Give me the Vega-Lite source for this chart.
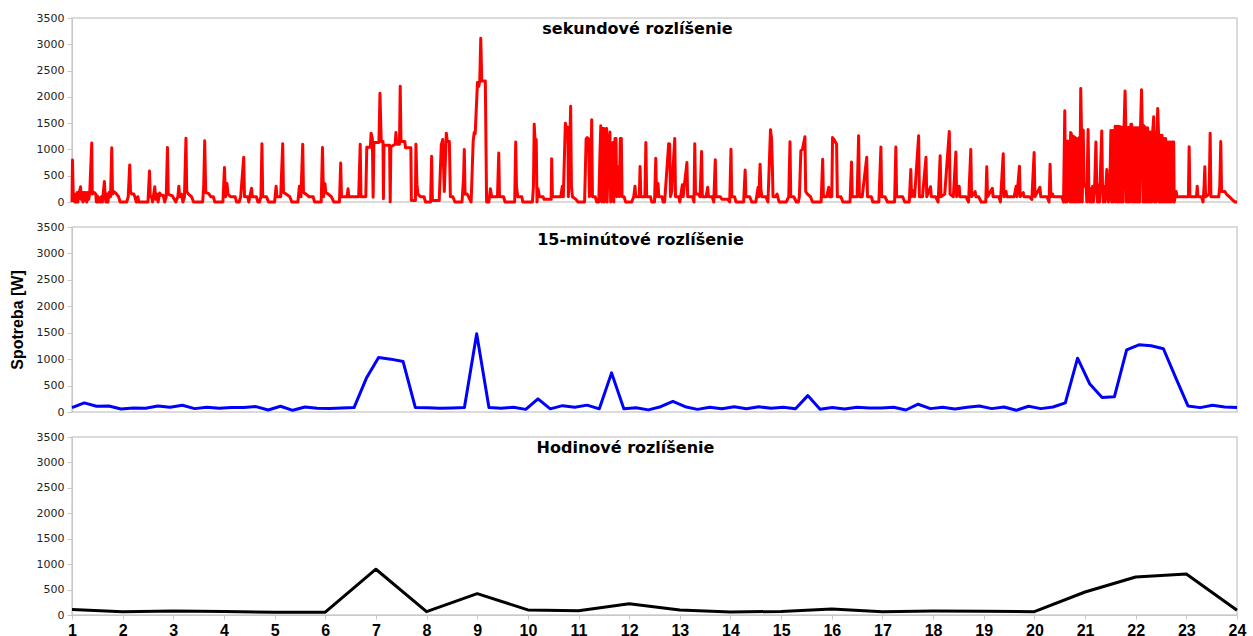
{
"$schema": "https://vega.github.io/schema/vega-lite/v6.json",
"background": "white",
"padding": {"left": 8, "top": 11, "right": 10, "bottom": 0},
"bounds": "flush",
"spacing": 25,
"config": {
"view": {"stroke": "#d0d0d0", "strokeWidth": 1.5},
"title": {"font": "DejaVu Sans", "fontSize": 16, "fontWeight": "bold", "color": "#000000", "anchor": "middle"},
"axisY": {"labelFont": "DejaVu Sans", "labelFontSize": 11, "labelColor": "#222222", "tickSize": 5, "labelPadding": 3, "domainColor": "#c8c8c8", "tickColor": "#c8c8c8", "grid": false, "labelFlush": false, "labelOverlap": false, "titleFont": "Liberation Sans", "titleFontSize": 16, "titleFontWeight": "bold", "titleColor": "#000000", "titlePadding": 11},
"axisX": {"labelFont": "Liberation Sans", "labelFontSize": 16, "labelFontWeight": "bold", "labelColor": "#000000", "tickSize": 4, "labelPadding": 3, "domainColor": "#c8c8c8", "tickColor": "#c8c8c8", "grid": false, "labelFlush": false, "labelOverlap": false}
},
"datasets": {
"sec": [
{"t":1.000,"w":0},{"t":1.010,"w":800},{"t":1.025,"w":100},{"t":1.045,"w":100},{"t":1.055,"w":0},{"t":1.075,"w":150},{"t":1.085,"w":0},{"t":1.105,"w":180},{"t":1.115,"w":0},{"t":1.135,"w":150},{"t":1.170,"w":290},{"t":1.180,"w":50},{"t":1.200,"w":180},{"t":1.215,"w":0},{"t":1.235,"w":180},{"t":1.250,"w":30},{"t":1.270,"w":180},{"t":1.290,"w":0},{"t":1.310,"w":180},{"t":1.330,"w":50},{"t":1.350,"w":180},{"t":1.390,"w":1120},{"t":1.400,"w":150},{"t":1.440,"w":180},{"t":1.470,"w":150},{"t":1.480,"w":0},{"t":1.500,"w":120},{"t":1.515,"w":0},{"t":1.535,"w":80},{"t":1.560,"w":0},{"t":1.580,"w":100},{"t":1.600,"w":0},{"t":1.640,"w":390},{"t":1.655,"w":100},{"t":1.670,"w":0},{"t":1.690,"w":150},{"t":1.710,"w":0},{"t":1.730,"w":180},{"t":1.760,"w":100},{"t":1.785,"w":1030},{"t":1.800,"w":150},{"t":1.820,"w":200},{"t":1.850,"w":180},{"t":1.880,"w":150},{"t":1.920,"w":100},{"t":1.950,"w":0},
{"t":2.080,"w":0},{"t":2.110,"w":100},{"t":2.140,"w":705},{"t":2.155,"w":200},{"t":2.180,"w":150},{"t":2.220,"w":150},{"t":2.240,"w":100},{"t":2.270,"w":0},{"t":2.300,"w":100},{"t":2.320,"w":0},{"t":2.500,"w":0},{"t":2.530,"w":590},{"t":2.545,"w":100},{"t":2.575,"w":100},{"t":2.590,"w":0},{"t":2.635,"w":290},{"t":2.650,"w":50},{"t":2.680,"w":150},{"t":2.700,"w":0},{"t":2.730,"w":170},{"t":2.760,"w":130},{"t":2.800,"w":130},{"t":2.830,"w":0},{"t":2.860,"w":100},{"t":2.885,"w":1035},{"t":2.900,"w":150},{"t":2.940,"w":130},{"t":2.980,"w":120},
{"t":3.050,"w":0},{"t":3.090,"w":100},{"t":3.110,"w":300},{"t":3.125,"w":100},{"t":3.160,"w":150},{"t":3.190,"w":0},{"t":3.220,"w":100},{"t":3.250,"w":1215},{"t":3.265,"w":200},{"t":3.300,"w":150},{"t":3.360,"w":100},{"t":3.400,"w":0},{"t":3.580,"w":0},{"t":3.600,"w":300},{"t":3.620,"w":1165},{"t":3.640,"w":180},{"t":3.700,"w":160},{"t":3.740,"w":100},{"t":3.790,"w":100},{"t":3.820,"w":0},
{"t":3.980,"w":0},{"t":4.010,"w":655},{"t":4.030,"w":100},{"t":4.060,"w":350},{"t":4.080,"w":150},{"t":4.130,"w":100},{"t":4.220,"w":100},{"t":4.250,"w":0},{"t":4.300,"w":0},{"t":4.330,"w":100},{"t":4.390,"w":850},{"t":4.405,"w":100},{"t":4.470,"w":100},{"t":4.490,"w":0},{"t":4.510,"w":100},{"t":4.545,"w":260},{"t":4.560,"w":100},{"t":4.640,"w":100},{"t":4.670,"w":0},{"t":4.700,"w":0},{"t":4.730,"w":100},{"t":4.750,"w":1110},{"t":4.765,"w":100},{"t":4.840,"w":100},{"t":4.860,"w":50},{"t":4.880,"w":0},
{"t":5.000,"w":0},{"t":5.030,"w":300},{"t":5.045,"w":100},{"t":5.120,"w":100},{"t":5.160,"w":1110},{"t":5.175,"w":180},{"t":5.230,"w":150},{"t":5.300,"w":100},{"t":5.340,"w":0},{"t":5.460,"w":0},{"t":5.490,"w":300},{"t":5.520,"w":100},{"t":5.555,"w":1100},{"t":5.570,"w":180},{"t":5.620,"w":150},{"t":5.680,"w":100},{"t":5.760,"w":100},{"t":5.790,"w":0},{"t":5.920,"w":0},{"t":5.945,"w":1035},{"t":5.965,"w":100},{"t":5.995,"w":345},
{"t":6.010,"w":180},{"t":6.060,"w":150},{"t":6.120,"w":100},{"t":6.170,"w":0},{"t":6.280,"w":0},{"t":6.305,"w":740},{"t":6.320,"w":100},{"t":6.430,"w":100},{"t":6.450,"w":250},{"t":6.465,"w":100},{"t":6.660,"w":100},{"t":6.690,"w":1100},{"t":6.705,"w":100},{"t":6.800,"w":100},{"t":6.820,"w":1040},{"t":6.890,"w":1040},{"t":6.905,"w":1310},{"t":6.930,"w":1200},{"t":6.945,"w":90},{"t":6.960,"w":1130},
{"t":7.060,"w":1130},{"t":7.080,"w":2070},{"t":7.105,"w":1150},{"t":7.140,"w":1150},{"t":7.148,"w":60},{"t":7.160,"w":1080},{"t":7.270,"w":1080},{"t":7.282,"w":0},{"t":7.295,"w":1050},{"t":7.380,"w":1100},{"t":7.395,"w":1320},{"t":7.410,"w":1100},{"t":7.465,"w":1100},{"t":7.480,"w":2200},{"t":7.495,"w":1150},{"t":7.570,"w":1150},{"t":7.585,"w":1030},{"t":7.690,"w":1030},{"t":7.700,"w":30},{"t":7.780,"w":30},{"t":7.790,"w":1100},{"t":7.810,"w":330},{"t":7.830,"w":150},{"t":7.880,"w":100},{"t":7.950,"w":100},{"t":7.980,"w":0},
{"t":8.080,"w":0},{"t":8.100,"w":870},{"t":8.115,"w":30},{"t":8.250,"w":30},{"t":8.290,"w":1080},{"t":8.320,"w":1190},{"t":8.350,"w":200},{"t":8.390,"w":1310},{"t":8.410,"w":1150},{"t":8.450,"w":1150},{"t":8.470,"w":100},{"t":8.520,"w":100},{"t":8.560,"w":0},{"t":8.700,"w":0},{"t":8.730,"w":450},{"t":8.745,"w":1000},{"t":8.760,"w":150},{"t":8.800,"w":150},{"t":8.830,"w":100},{"t":8.880,"w":0},{"t":8.920,"w":1150},{"t":8.940,"w":1320},{"t":8.960,"w":1300},
{"t":9.005,"w":2275},{"t":9.030,"w":2200},{"t":9.050,"w":2300},{"t":9.070,"w":3115},{"t":9.090,"w":2300},{"t":9.160,"w":2300},{"t":9.185,"w":0},{"t":9.230,"w":0},{"t":9.260,"w":250},{"t":9.285,"w":100},{"t":9.400,"w":100},{"t":9.425,"w":930},{"t":9.440,"w":100},{"t":9.520,"w":100},{"t":9.550,"w":0},{"t":9.740,"w":0},{"t":9.760,"w":1140},{"t":9.775,"w":300},{"t":9.800,"w":100},{"t":9.880,"w":100},{"t":9.900,"w":0},{"t":9.980,"w":0},
{"t":10.090,"w":0},{"t":10.110,"w":300},{"t":10.125,"w":1480},{"t":10.140,"w":1190},{"t":10.165,"w":1190},{"t":10.180,"w":0},{"t":10.200,"w":250},{"t":10.230,"w":100},{"t":10.300,"w":100},{"t":10.320,"w":50},{"t":10.460,"w":50},{"t":10.470,"w":825},{"t":10.485,"w":100},{"t":10.650,"w":100},{"t":10.680,"w":300},{"t":10.700,"w":100},{"t":10.740,"w":1500},{"t":10.760,"w":1400},{"t":10.790,"w":1420},{"t":10.800,"w":100},{"t":10.845,"w":1820},{"t":10.860,"w":300},{"t":10.880,"w":100},{"t":10.950,"w":50},{"t":10.990,"w":0},
{"t":11.120,"w":0},{"t":11.150,"w":1200},{"t":11.170,"w":1225},{"t":11.200,"w":1200},{"t":11.215,"w":100},{"t":11.240,"w":200},{"t":11.260,"w":1565},{"t":11.275,"w":100},{"t":11.330,"w":100},{"t":11.360,"w":0},{"t":11.400,"w":0},{"t":11.425,"w":1000},{"t":11.440,"w":1450},{"t":11.460,"w":0},{"t":11.480,"w":1400},{"t":11.500,"w":1400},{"t":11.510,"w":0},{"t":11.530,"w":1300},{"t":11.555,"w":1400},{"t":11.565,"w":0},{"t":11.590,"w":1000},{"t":11.620,"w":1330},{"t":11.635,"w":0},{"t":11.660,"w":1100},{"t":11.680,"w":1130},{"t":11.695,"w":0},{"t":11.720,"w":1210},{"t":11.740,"w":1210},{"t":11.755,"w":100},{"t":11.790,"w":670},{"t":11.805,"w":100},{"t":11.825,"w":1210},{"t":11.845,"w":1210},{"t":11.860,"w":100},{"t":11.900,"w":100},{"t":11.930,"w":0},
{"t":12.050,"w":0},{"t":12.090,"w":100},{"t":12.115,"w":300},{"t":12.130,"w":100},{"t":12.200,"w":100},{"t":12.215,"w":675},{"t":12.230,"w":100},{"t":12.310,"w":100},{"t":12.330,"w":1130},{"t":12.345,"w":100},{"t":12.420,"w":100},{"t":12.445,"w":0},{"t":12.500,"w":0},{"t":12.525,"w":830},{"t":12.540,"w":100},{"t":12.570,"w":350},{"t":12.585,"w":100},{"t":12.650,"w":100},{"t":12.670,"w":0},{"t":12.700,"w":0},{"t":12.780,"w":1110},{"t":12.800,"w":1100},{"t":12.815,"w":100},{"t":12.840,"w":200},{"t":12.900,"w":1210},{"t":12.915,"w":100},{"t":12.980,"w":100},
{"t":13.000,"w":0},{"t":13.050,"w":330},{"t":13.065,"w":100},{"t":13.140,"w":750},{"t":13.155,"w":100},{"t":13.250,"w":100},{"t":13.280,"w":0},{"t":13.295,"w":1110},{"t":13.310,"w":150},{"t":13.360,"w":150},{"t":13.400,"w":100},{"t":13.430,"w":960},{"t":13.445,"w":100},{"t":13.520,"w":100},{"t":13.550,"w":280},{"t":13.565,"w":100},{"t":13.640,"w":100},{"t":13.670,"w":0},{"t":13.700,"w":805},{"t":13.715,"w":100},{"t":13.800,"w":100},{"t":13.830,"w":50},{"t":13.950,"w":50},{"t":13.985,"w":0},
{"t":14.010,"w":1005},{"t":14.025,"w":100},{"t":14.080,"w":100},{"t":14.110,"w":0},{"t":14.260,"w":0},{"t":14.290,"w":610},{"t":14.305,"w":100},{"t":14.380,"w":100},{"t":14.420,"w":0},{"t":14.500,"w":0},{"t":14.545,"w":280},{"t":14.560,"w":100},{"t":14.585,"w":720},{"t":14.600,"w":250},{"t":14.620,"w":100},{"t":14.700,"w":100},{"t":14.740,"w":0},{"t":14.790,"w":1375},{"t":14.810,"w":1220},{"t":14.825,"w":750},{"t":14.840,"w":100},{"t":14.890,"w":100},{"t":14.920,"w":150},{"t":14.960,"w":0},
{"t":15.100,"w":0},{"t":15.150,"w":100},{"t":15.175,"w":1145},{"t":15.190,"w":100},{"t":15.250,"w":100},{"t":15.300,"w":0},{"t":15.340,"w":0},{"t":15.360,"w":100},{"t":15.390,"w":975},{"t":15.420,"w":1000},{"t":15.470,"w":1240},{"t":15.485,"w":200},{"t":15.520,"w":150},{"t":15.580,"w":100},{"t":15.620,"w":0},{"t":15.790,"w":0},{"t":15.820,"w":815},{"t":15.835,"w":100},{"t":15.900,"w":100},{"t":15.940,"w":280},{"t":15.955,"w":100},
{"t":16.000,"w":100},{"t":16.015,"w":1225},{"t":16.050,"w":1180},{"t":16.095,"w":1100},{"t":16.110,"w":100},{"t":16.180,"w":100},{"t":16.220,"w":0},{"t":16.360,"w":0},{"t":16.390,"w":760},{"t":16.405,"w":100},{"t":16.500,"w":100},{"t":16.530,"w":1260},{"t":16.545,"w":100},{"t":16.600,"w":100},{"t":16.690,"w":850},{"t":16.705,"w":100},{"t":16.780,"w":100},{"t":16.810,"w":0},{"t":16.930,"w":0},{"t":16.970,"w":1045},{"t":16.985,"w":100},
{"t":17.050,"w":100},{"t":17.100,"w":0},{"t":17.240,"w":0},{"t":17.265,"w":1045},{"t":17.280,"w":100},{"t":17.400,"w":100},{"t":17.440,"w":0},{"t":17.530,"w":0},{"t":17.560,"w":620},{"t":17.575,"w":100},{"t":17.620,"w":220},{"t":17.635,"w":100},{"t":17.715,"w":1260},{"t":17.730,"w":100},{"t":17.790,"w":100},{"t":17.860,"w":850},{"t":17.875,"w":100},{"t":17.950,"w":290},{"t":17.965,"w":100},
{"t":18.050,"w":100},{"t":18.100,"w":0},{"t":18.140,"w":880},{"t":18.155,"w":100},{"t":18.230,"w":150},{"t":18.320,"w":1340},{"t":18.335,"w":150},{"t":18.400,"w":100},{"t":18.450,"w":950},{"t":18.465,"w":100},{"t":18.515,"w":300},{"t":18.530,"w":100},{"t":18.650,"w":100},{"t":18.700,"w":0},{"t":18.745,"w":1000},{"t":18.760,"w":100},{"t":18.830,"w":200},{"t":18.845,"w":100},{"t":18.900,"w":100},{"t":18.950,"w":0},
{"t":19.040,"w":0},{"t":19.060,"w":670},{"t":19.075,"w":100},{"t":19.170,"w":260},{"t":19.185,"w":100},{"t":19.300,"w":100},{"t":19.330,"w":0},{"t":19.385,"w":920},{"t":19.400,"w":100},{"t":19.440,"w":200},{"t":19.455,"w":100},{"t":19.600,"w":100},{"t":19.640,"w":300},{"t":19.655,"w":100},{"t":19.705,"w":680},{"t":19.720,"w":100},{"t":19.780,"w":180},{"t":19.795,"w":100},{"t":19.900,"w":100},{"t":19.950,"w":50},{"t":19.995,"w":940},
{"t":20.010,"w":100},{"t":20.110,"w":280},{"t":20.125,"w":100},{"t":20.250,"w":100},{"t":20.290,"w":0},{"t":20.310,"w":720},{"t":20.325,"w":100},{"t":20.360,"w":150},{"t":20.375,"w":100},{"t":20.540,"w":100},{"t":20.575,"w":0},{"t":20.600,"w":1735},{"t":20.615,"w":0},{"t":20.630,"w":1160},{"t":20.645,"w":0},{"t":20.660,"w":1160},{"t":20.675,"w":100},{"t":20.690,"w":1150},{"t":20.705,"w":0},{"t":20.715,"w":1320},{"t":20.730,"w":1300},{"t":20.740,"w":0},{"t":20.755,"w":1250},{"t":20.770,"w":1250},{"t":20.780,"w":0},{"t":20.795,"w":1230},{"t":20.810,"w":1220},{"t":20.820,"w":0},{"t":20.840,"w":1200},{"t":20.855,"w":0},{"t":20.880,"w":1220},{"t":20.895,"w":0},{"t":20.915,"w":2160},{"t":20.930,"w":1370},{"t":20.945,"w":0},{"t":20.965,"w":1370},{"t":20.980,"w":300},
{"t":21.020,"w":330},{"t":21.035,"w":0},{"t":21.060,"w":1380},{"t":21.075,"w":300},{"t":21.090,"w":0},{"t":21.110,"w":250},{"t":21.125,"w":0},{"t":21.150,"w":300},{"t":21.165,"w":0},{"t":21.190,"w":300},{"t":21.215,"w":1140},{"t":21.230,"w":350},{"t":21.245,"w":0},{"t":21.270,"w":330},{"t":21.285,"w":0},{"t":21.330,"w":1350},{"t":21.345,"w":290},{"t":21.360,"w":0},{"t":21.380,"w":290},{"t":21.395,"w":0},{"t":21.430,"w":620},{"t":21.445,"w":300},{"t":21.460,"w":0},{"t":21.490,"w":300},{"t":21.510,"w":1360},{"t":21.525,"w":0},{"t":21.545,"w":1360},{"t":21.560,"w":0},{"t":21.595,"w":1440},{"t":21.610,"w":0},{"t":21.630,"w":1440},{"t":21.645,"w":0},{"t":21.665,"w":1440},{"t":21.680,"w":0},{"t":21.700,"w":1430},{"t":21.715,"w":0},{"t":21.735,"w":1420},{"t":21.750,"w":0},{"t":21.770,"w":1420},{"t":21.790,"w":2110},{"t":21.805,"w":1410},{"t":21.815,"w":0},{"t":21.835,"w":1410},{"t":21.850,"w":0},{"t":21.870,"w":1420},{"t":21.885,"w":0},{"t":21.905,"w":1480},{"t":21.920,"w":1480},{"t":21.935,"w":0},{"t":21.955,"w":1410},{"t":21.970,"w":0},{"t":21.990,"w":1410},
{"t":22.005,"w":0},{"t":22.025,"w":1410},{"t":22.040,"w":0},{"t":22.060,"w":1410},{"t":22.075,"w":0},{"t":22.095,"w":1420},{"t":22.115,"w":2135},{"t":22.130,"w":1450},{"t":22.145,"w":0},{"t":22.165,"w":1450},{"t":22.180,"w":0},{"t":22.200,"w":1410},{"t":22.215,"w":0},{"t":22.235,"w":1410},{"t":22.250,"w":0},{"t":22.270,"w":1330},{"t":22.285,"w":0},{"t":22.300,"w":1330},{"t":22.315,"w":0},{"t":22.335,"w":1330},{"t":22.355,"w":1620},{"t":22.370,"w":0},{"t":22.390,"w":1320},{"t":22.405,"w":0},{"t":22.420,"w":1320},{"t":22.435,"w":1780},{"t":22.450,"w":1320},{"t":22.465,"w":0},{"t":22.485,"w":1270},{"t":22.500,"w":0},{"t":22.520,"w":1270},{"t":22.535,"w":0},{"t":22.555,"w":1210},{"t":22.570,"w":0},{"t":22.590,"w":1210},{"t":22.605,"w":0},{"t":22.625,"w":1140},{"t":22.640,"w":0},{"t":22.660,"w":1140},{"t":22.675,"w":0},{"t":22.695,"w":1140},{"t":22.710,"w":0},{"t":22.730,"w":1140},{"t":22.750,"w":1140},{"t":22.760,"w":0},{"t":22.800,"w":200},{"t":22.815,"w":100},{"t":22.900,"w":100},
{"t":23.000,"w":100},{"t":23.040,"w":100},{"t":23.055,"w":1050},{"t":23.070,"w":100},{"t":23.200,"w":100},{"t":23.215,"w":300},{"t":23.230,"w":100},{"t":23.300,"w":100},{"t":23.330,"w":0},{"t":23.350,"w":300},{"t":23.365,"w":670},{"t":23.380,"w":100},{"t":23.450,"w":150},{"t":23.470,"w":1310},{"t":23.485,"w":100},{"t":23.640,"w":100},{"t":23.660,"w":300},{"t":23.680,"w":1150},{"t":23.695,"w":200},{"t":23.760,"w":200},{"t":23.790,"w":150},{"t":23.850,"w":100},{"t":23.900,"w":50},{"t":23.960,"w":0},{"t":24.000,"w":0}
],
"q15": [
{"t":1.0000,"w":84},{"t":1.2421,"w":172},{"t":1.4842,"w":108},{"t":1.7263,"w":115},{"t":1.9684,"w":57},{"t":2.2105,"w":76},{"t":2.4526,"w":70},{"t":2.6947,"w":115},{"t":2.9368,"w":89},{"t":3.1789,"w":127},{"t":3.4211,"w":64},{"t":3.6632,"w":89},{"t":3.9053,"w":70},{"t":4.1474,"w":83},{"t":4.3895,"w":83},{"t":4.6316,"w":102},{"t":4.8737,"w":38},{"t":5.1158,"w":108},{"t":5.3579,"w":32},{"t":5.6000,"w":95},{"t":5.8421,"w":70},{"t":6.0842,"w":64},{"t":6.3263,"w":76},{"t":6.5684,"w":83},{"t":6.8105,"w":637},{"t":7.0526,"w":1030},{"t":7.2947,"w":1000},{"t":7.5368,"w":955},{"t":7.7789,"w":83},{"t":8.0211,"w":80},{"t":8.2632,"w":70},{"t":8.5053,"w":75},{"t":8.7474,"w":85},{"t":8.9895,"w":1480},{"t":9.2316,"w":85},{"t":9.4737,"w":70},{"t":9.7158,"w":90},{"t":9.9579,"w":50},{"t":10.2000,"w":250},{"t":10.4421,"w":60},{"t":10.6842,"w":120},{"t":10.9263,"w":90},{"t":11.1684,"w":130},{"t":11.4105,"w":60},{"t":11.6526,"w":740},{"t":11.8947,"w":60},{"t":12.1368,"w":80},{"t":12.3789,"w":40},{"t":12.6211,"w":100},{"t":12.8632,"w":200},{"t":13.1053,"w":100},{"t":13.3474,"w":50},{"t":13.5895,"w":90},{"t":13.8316,"w":60},{"t":14.0737,"w":100},{"t":14.3158,"w":60},{"t":14.5579,"w":100},{"t":14.8000,"w":70},{"t":15.0421,"w":90},{"t":15.2842,"w":60},{"t":15.5263,"w":310},{"t":15.7684,"w":50},{"t":16.0105,"w":84},{"t":16.2526,"w":57},{"t":16.4947,"w":89},{"t":16.7368,"w":76},{"t":16.9789,"w":76},{"t":17.2211,"w":89},{"t":17.4632,"w":38},{"t":17.7053,"w":147},{"t":17.9474,"w":64},{"t":18.1895,"w":89},{"t":18.4316,"w":57},{"t":18.6737,"w":89},{"t":18.9158,"w":115},{"t":19.1579,"w":64},{"t":19.4000,"w":95},{"t":19.6421,"w":32},{"t":19.8842,"w":108},{"t":20.1263,"w":64},{"t":20.3684,"w":95},{"t":20.6105,"w":172},{"t":20.8526,"w":1018},{"t":21.0947,"w":528},{"t":21.3368,"w":275},{"t":21.5789,"w":287},{"t":21.8211,"w":1177},{"t":22.0632,"w":1272},{"t":22.3053,"w":1253},{"t":22.5474,"w":1196},{"t":22.7895,"w":649},{"t":23.0316,"w":115},{"t":23.2737,"w":83},{"t":23.5158,"w":127},{"t":23.7579,"w":95},{"t":24.0000,"w":83}
],
"hr": [
{"t":1,"w":110},{"t":2,"w":65},{"t":3,"w":80},{"t":4,"w":70},{"t":5,"w":55},{"t":6,"w":55},{"t":7,"w":900},{"t":8,"w":65},{"t":9,"w":420},{"t":10,"w":100},{"t":11,"w":85},{"t":12,"w":220},{"t":13,"w":100},{"t":14,"w":60},{"t":15,"w":70},{"t":16,"w":120},{"t":17,"w":65},{"t":18,"w":78},{"t":19,"w":72},{"t":20,"w":65},{"t":21,"w":452},{"t":22,"w":747},{"t":23,"w":805},{"t":24,"w":92}
]
},
"vconcat": [
{
"width": 1165, "height": 184,
"title": {"text": "sekundové rozlíšenie", "offset": -25, "dx": -17},
"data": {"name": "sec"},
"mark": {"type": "line", "color": "#ff0000", "strokeWidth": 3, "strokeJoin": "round"},
"encoding": {
"x": {"field": "t", "type": "quantitative", "scale": {"domain": [1, 24], "nice": false, "zero": false}, "axis": null},
"y": {"field": "w", "type": "quantitative", "scale": {"domain": [0, 3500], "nice": false}, "axis": {"values": [0, 500, 1000, 1500, 2000, 2500, 3000, 3500], "format": "d", "title": null}}
}
},
{
"width": 1165, "height": 185,
"title": {"text": "15-minútové rozlíšenie", "offset": -27, "dx": -14},
"data": {"name": "q15"},
"mark": {"type": "line", "color": "#0000ff", "strokeWidth": 3, "strokeJoin": "round"},
"encoding": {
"x": {"field": "t", "type": "quantitative", "scale": {"domain": [1, 24], "nice": false, "zero": false}, "axis": null},
"y": {"field": "w", "type": "quantitative", "scale": {"domain": [0, 3500], "nice": false}, "axis": {"values": [0, 500, 1000, 1500, 2000, 2500, 3000, 3500], "format": "d", "title": "Spotreba [W]"}}
}
},
{
"width": 1165, "height": 178,
"title": {"text": "Hodinové rozlíšenie", "offset": -25, "dx": -29},
"data": {"name": "hr"},
"mark": {"type": "line", "color": "#000000", "strokeWidth": 3, "strokeJoin": "round"},
"encoding": {
"x": {"field": "t", "type": "quantitative", "scale": {"domain": [1, 24], "nice": false, "zero": false}, "axis": {"values": [1,2,3,4,5,6,7,8,9,10,11,12,13,14,15,16,17,18,19,20,21,22,23,24], "format": "d", "title": null}},
"y": {"field": "w", "type": "quantitative", "scale": {"domain": [0, 3500], "nice": false}, "axis": {"values": [0, 500, 1000, 1500, 2000, 2500, 3000, 3500], "format": "d", "title": null}}
}
}
]
}
